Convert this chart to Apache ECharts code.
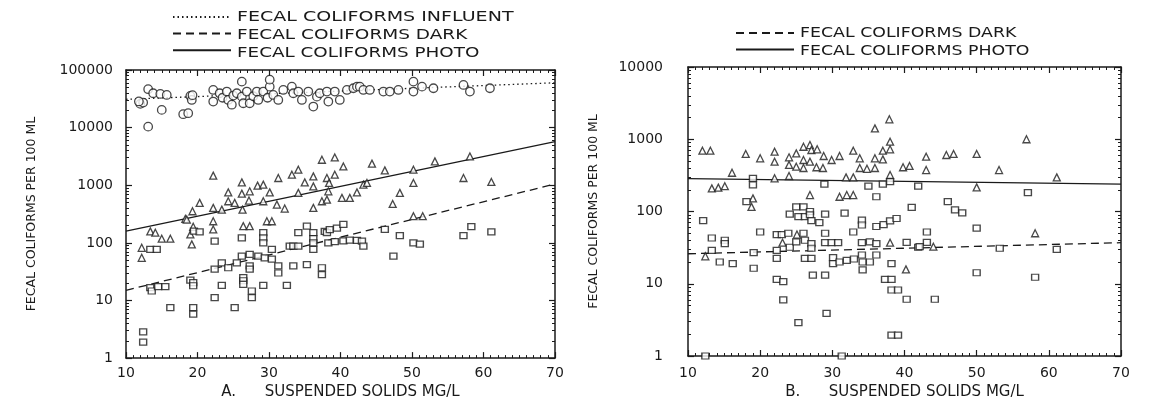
<!DOCTYPE html>
<html>
<head>
<meta charset="utf-8">
<script src="https://cdn.jsdelivr.net/npm/echarts@6/dist/echarts.min.js"></script>
<style>html,body{margin:0;padding:0;background:#fff}#c{width:1152px;height:405px}</style>
</head>
<body>
<div id="c"></div>
<script>
// ---------- DATA ----------
const xTicks = [10, 20, 30, 40, 50, 60, 70];
const yTicksA = [1, 10, 100, 1000, 10000, 100000];
const yTicksB = [1, 10, 100, 1000, 10000];

const nameInfluent = 'FECAL COLIFORMS INFLUENT';
const nameDark = 'FECAL COLIFORMS DARK';
const namePhoto = 'FECAL COLIFORMS PHOTO';
const xTitleA = 'A.      SUSPENDED SOLIDS MG/L';
const xTitleB = 'B.      SUSPENDED SOLIDS MG/L';
const yTitle = 'FECAL COLIFORMS PER 100 ML';

// Panel A: influent (circles)
const aInfluent = [[12.0,25800],[12.4,27200],[11.8,28500],[13.1,46400],[13.8,39500],[14.8,38400],[15.0,20300],[15.7,36900],[13.1,10400],
 [18.0,17100],[18.7,17800],[19.0,35500],[19.2,30200],[19.3,36500],[22.2,45100],[22.2,28300],[23.1,39500],[23.5,33000],[24.1,42200],
 [24.3,30200],[24.8,25000],[25.0,36000],[25.5,39500],[26.2,62800],[26.2,34500],[26.4,26500],[26.9,42200],[27.3,26500],[27.8,35000],
 [28.3,42200],[28.5,30200],[29.2,42200],[29.8,33000],[30.1,51400],[30.1,68000],[30.6,36900],[31.3,30200],[32.0,45100],[33.2,51400],
 [33.4,39500],[34.1,42200],[34.6,30200],[35.5,42200],[36.2,23200],[36.7,34500],[37.1,39500],[38.1,42200],[38.3,28300],[39.2,42200],
 [39.9,30200],[40.9,45100],[41.8,48200],[42.3,51400],[42.7,51400],[43.2,45100],[44.1,45100],[46.0,42200],[46.9,42200],[48.1,45100],
 [50.2,62800],[50.2,42200],[51.4,51400],[53.0,48200],[57.2,55000],[58.1,42200],[60.9,48200]];
// Panel A: photo (triangles)
const aPhoto = [[12.2,82],[12.2,55],[13.4,158],[14.1,150],[15.0,118],[16.2,118],[18.3,261],[18.5,254],[19.0,140],[19.2,94],
 [19.3,354],[19.4,190],[20.3,494],[22.2,1470],[22.2,405],[22.2,237],[22.2,171],[23.4,378],[24.3,753],[24.3,527],[25.2,494],
 [26.2,1122],[26.2,716],[26.3,378],[26.4,195],[27.2,542],[27.3,784],[27.3,195],[28.4,984],[29.2,1024],[29.2,527],[29.7,237],
 [30.1,753],[30.4,237],[31.1,461],[31.3,1336],[32.2,394],[33.2,1525],[34.1,1862],[34.1,736],[35.0,1122],[36.2,1425],[36.2,955],
 [36.2,405],[37.4,2770],[37.4,527],[38.1,1336],[38.1,562],[38.3,784],[38.4,1096],[39.2,3040],[39.2,1525],[40.2,603],[40.4,2120],
 [41.3,603],[42.3,753],[43.2,1024],[43.7,1096],[44.4,2370],[46.2,1810],[47.3,473],[48.3,736],[50.2,1862],[50.2,1096],[50.2,290],
 [51.5,290],[53.2,2594],[57.2,1336],[58.1,3160],[61.1,1140]];
// Panel A: dark (squares)
const aDark = [[12.4,2.85],[12.4,1.9],[13.4,77],[14.3,77],[13.4,16.7],[13.6,14.6],[14.5,17.4],[15.5,17.4],[16.2,7.5],[19.0,22.6],
 [19.4,20.4],[19.4,18],[19.4,7.5],[19.4,5.8],[19.5,160],[20.3,155],[22.4,107],[22.4,35],[22.4,11.2],[23.4,45],[24.3,37],[23.4,18.3],
 [25.2,7.5],[25.5,45],[26.2,122],[26.2,59],[26.4,25],[26.4,22],[26.4,19],[27.3,63],[27.3,40],[27.3,35],[27.6,14.6],[27.6,11.2],
 [28.5,59],[29.4,55],[29.2,150],[29.2,122],[29.2,100],[29.2,18.3],[30.4,77],[30.4,52],[31.3,40],[31.3,30],[32.5,18.3],[32.9,88],
 [33.4,40],[33.4,88],[34.1,150],[34.1,88],[35.3,195],[35.3,42],[36.2,150],[36.2,118],[36.2,77],[36.2,100],[37.4,37],[37.4,28],
 [37.8,158],[38.1,150],[38.3,100],[38.5,170],[39.2,105],[39.5,180],[40.4,210],[40.4,108],[41.3,112],[42.3,110],[43.0,107],[43.2,88],
 [46.2,171],[47.4,59],[48.3,134],[50.2,100],[51.1,95],[57.2,134],[58.3,191],[61.1,155]];
// Panel A fitted lines (end points)
const aInfluentFit = [[10,31000],[70,60000]];
const aPhotoFit = [[10,160],[70,5700]];
const aDarkFit = [[10,15],[70,1050]];

// Panel B: photo (triangles)
const bPhoto = [[12.0,695],[13.1,695],[16.1,344],[18.0,626],[20.0,545],[22.0,673],[22.0,489],[24.0,562],[25.0,638],[26.0,788],
 [26.9,831],[27.1,710],[27.9,726],[24.0,441],[25.0,417],[26.0,516],[26.9,489],[26.0,400],[27.8,410],[28.7,400],[28.8,586],[29.9,516],
 [31.0,586],[32.9,695],[33.8,545],[35.9,545],[37.0,527],[37.0,695],[38.0,726],[38.0,925],[35.9,1416],[37.9,1888],[33.8,400],
 [34.8,390],[35.9,400],[39.8,410],[40.7,427],[43.0,574],[43.0,375],[31.9,297],[32.9,297],[38.0,320],[24.0,310],[22.0,288],
 [13.3,209],[14.2,214],[15.1,224],[26.9,169],[31.0,160],[32.0,169],[32.9,169],[18.8,116],[19.0,152],[45.8,605],[46.8,626],[50.0,626],
 [53.1,375],[56.9,1000],[61.1,297],[50.0,216],[58.1,50],[12.4,24],[23.1,37],[25.1,48],[38.0,37],[40.2,15.8],[44.0,32.6]];
// Panel B: dark (squares)
const bDark = [[19.0,288],[19.0,234],[18.1,137],[12.1,75],[13.3,43],[13.3,29],[15.1,40],[15.1,36],[14.4,20],[16.2,19],[19.1,27],
 [19.1,16.4],[20.0,52],[22.3,48],[23.0,48],[23.9,50],[22.3,29],[22.3,22.5],[24.1,32],[25.0,38],[26.0,50],[26.2,40],[27.1,36],
 [27.1,31],[26.2,22.5],[27.1,22.5],[24.1,92],[25.3,85],[26.2,85],[25.0,116],[26.0,116],[26.9,100],[26.9,90],[27.1,75],[28.2,70],
 [29.0,92],[29.0,50],[29.0,37],[29.9,37],[30.8,37],[30.1,23],[30.1,19],[31.0,20],[32.0,21],[33.0,22],[34.2,20],[34.2,15.6],
 [27.3,13.2],[29.0,13.2],[34.1,37],[34.1,25],[32.9,52],[34.1,76],[34.1,65],[35.2,38],[35.2,20],[36.1,62],[37.1,66],[38.0,74],
 [38.9,80],[36.1,36],[36.1,25],[38.2,19],[37.3,11.5],[38.2,11.5],[38.2,8.2],[39.1,8.2],[40.3,6.1],[38.2,1.95],[39.1,1.95],
 [23.2,6],[25.3,2.9],[29.2,3.9],[22.3,11.5],[23.2,10.7],[31.7,95],[41.0,114],[40.3,37.5],[41.9,32],[43.1,52],[43.1,37.5],
 [42.1,32.6],[46.0,137],[47.0,105],[48.0,96],[50.0,59],[50.0,14.2],[44.2,6.1],[53.2,31],[61.1,30],[58.1,12.3],[28.9,240],
 [35.0,224],[37.0,240],[38.0,259],[41.9,224],[36.1,160],[57.1,182],[12.4,1],[31.3,1]];
// Panel B fitted lines
const bPhotoFit = [[10,285],[70,240]];
const bDarkFit = [[10,26],[70,37]];

// ---------- CHART ----------
const FONT = 'DejaVu Sans';
const INK = '#1a1a1a';
const chart = echarts.init(document.getElementById('c'), null, {renderer: 'canvas'});

function xAxisDef(grid, top, title, labelMargin, nameGap) {
  return {
    type: 'value', gridIndex: grid, min: 10, max: 70, interval: 10,
    position: top ? 'top' : 'bottom',
    axisLine: {show: true, lineStyle: {color: INK, width: 1.5}},
    axisTick: {show: true, inside: true, length: 6, lineStyle: {color: INK, width: 1.2}},
    minorTick: {show: true, splitNumber: 10, length: 3, lineStyle: {color: INK, width: 1}},
    splitLine: {show: false},
    axisLabel: {show: !top, margin: labelMargin, fontFamily: FONT, fontSize: 14, color: INK,
      formatter: v => xTicks.includes(v) ? String(v) : ''},
    name: top ? '' : title, nameLocation: 'middle', nameGap: nameGap,
    nameTextStyle: {fontFamily: FONT, fontSize: 15, color: INK}
  };
}
function yAxisDef(grid, right, maxV, ticks, labelMargin) {
  return {
    type: 'log', logBase: 10, gridIndex: grid, min: 1, max: maxV,
    position: right ? 'right' : 'left',
    axisLine: {show: true, lineStyle: {color: INK, width: 1.5}},
    axisTick: {show: true, inside: true, length: 6, lineStyle: {color: INK, width: 1.2}},
    minorTick: {show: true, splitNumber: 9, length: 3, lineStyle: {color: INK, width: 1}},
    splitLine: {show: false},
    axisLabel: {show: !right, margin: labelMargin, fontFamily: FONT, fontSize: 14, color: INK,
      formatter: v => { const r = Math.round(v); return ticks.includes(r) ? String(r) : ''; }},
    name: right ? '' : yTitle, nameLocation: 'middle', nameGap: 88, nameRotate: 90,
    nameTextStyle: {fontFamily: FONT, fontSize: 12.5, color: INK}
  };
}
function scatter(name, data, xi, yi, symbol, size) {
  return {type: 'scatter', name: name, data: data, xAxisIndex: xi, yAxisIndex: yi,
    symbol: symbol, symbolSize: size, z: 3,
    itemStyle: {color: '#ffffff', borderColor: INK, borderWidth: 1.3}};
}
function fit(name, data, xi, yi, type) {
  return {type: 'line', name: name, data: data, xAxisIndex: xi, yAxisIndex: yi,
    showSymbol: false, symbol: 'none', z: 2, silent: true,
    itemStyle: {color: INK},
    lineStyle: {color: INK, width: 1.3, type: type}};
}

// legend: line samples drawn by the legend component, labels as stretched text
const hidden = 'rgba(0,0,0,0)';
function legendDef(left, top, names) {
  return {orient: 'vertical', left: left, top: top, padding: 0, itemGap: 4, itemWidth: 58, itemHeight: 14,
    data: names, formatter: () => '', selectedMode: false,
    itemStyle: {color: hidden, borderColor: hidden, borderWidth: 0},
    textStyle: {fontSize: 1}};
}
function legendLabel(text, x, y, sx) {
  return {type: 'text', x: x, y: y, scaleX: sx, silent: true,
    style: {text: text, fontFamily: FONT, fontSize: 14, fill: INK, verticalAlign: 'middle', align: 'left'}};
}

const option = {
  animation: false,
  backgroundColor: '#ffffff',
  grid: [
    {left: 126, top: 70, width: 429, height: 289},
    {left: 688, top: 67, width: 433, height: 289}
  ],
  legend: [
    legendDef(172, 10, [nameInfluent, nameDark, namePhoto]),
    legendDef(735, 26, [nameDark, namePhoto])
  ],
  graphic: [
    legendLabel(nameInfluent, 237, 17, 1.36),
    legendLabel(nameDark, 237, 35, 1.32),
    legendLabel(namePhoto, 237, 53, 1.31),
    legendLabel(nameDark, 800, 33, 1.24),
    legendLabel(namePhoto, 800, 51, 1.24)
  ],
  xAxis: [
    xAxisDef(0, false, xTitleA, 8, 26),
    xAxisDef(0, true, '', 8, 26),
    xAxisDef(1, false, xTitleB, 10, 28),
    xAxisDef(1, true, '', 10, 28)
  ],
  yAxis: [
    yAxisDef(0, false, 100000, yTicksA, 13),
    yAxisDef(0, true, 100000, yTicksA, 13),
    yAxisDef(1, false, 10000, yTicksB, 25),
    yAxisDef(1, true, 10000, yTicksB, 25)
  ],
  series: [
    fit(nameInfluent, aInfluentFit, 0, 0, [1.5, 3]),
    fit(nameDark, aDarkFit, 0, 0, [8, 5]),
    fit(namePhoto, aPhotoFit, 0, 0, 'solid'),
    scatter('A influent', aInfluent, 0, 0, 'circle', 8.5),
    scatter('A photo', aPhoto, 0, 0, 'triangle', 7),
    scatter('A dark', aDark, 0, 0, 'rect', [7, 6]),
    fit(nameDark, bDarkFit, 2, 2, [8, 5]),
    fit(namePhoto, bPhotoFit, 2, 2, 'solid'),
    scatter('B photo', bPhoto, 2, 2, 'triangle', 7),
    scatter('B dark', bDark, 2, 2, 'rect', [7, 6])
  ]
};
chart.setOption(option);
</script>
</body>
</html>
